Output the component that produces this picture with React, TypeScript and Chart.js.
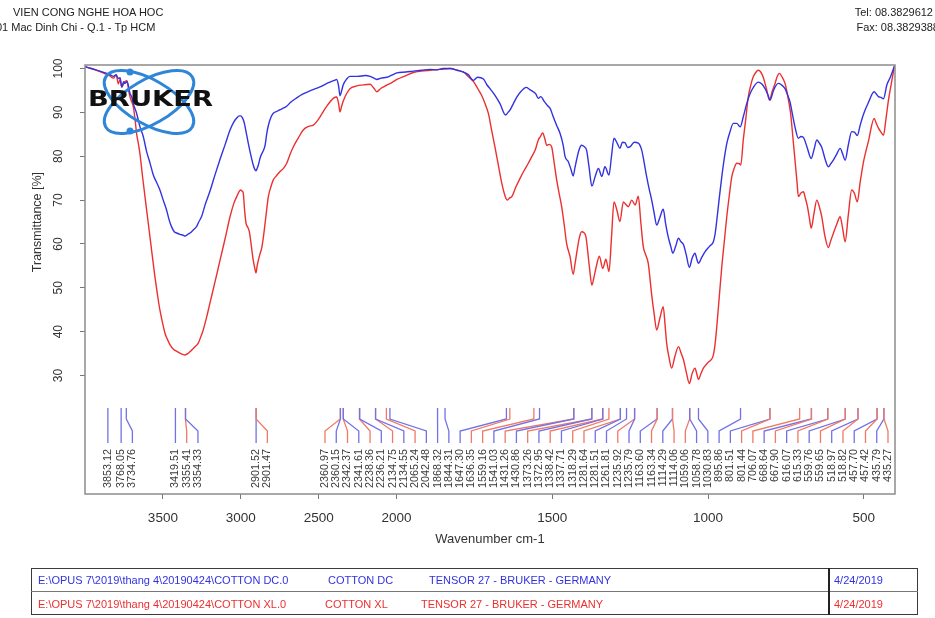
import { useEffect, useRef } from 'react'
import { Chart, registerables } from 'chart.js'

Chart.register(...registerables)

const FONT = '"Liberation Sans", Arial, sans-serif'
const BLUE = '#3232e0'
const RED = '#ec3030'
const LEADER_BLUE = '#7272e6'
const LEADER_RED = '#f07a66'

// [wavenumber cm-1, transmittance %]
const DC_POINTS: [number, number][] = [
  [3998, 100.4], [3960, 100], [3904, 99.4], [3870, 99], [3840, 98.6], [3818, 98.2], [3800, 98.6],
  [3786, 97.7], [3775, 97.9], [3764, 95.8], [3752, 97], [3743, 96.6], [3730, 97], [3711, 94.3],
  [3700, 93.5], [3690, 92], [3668, 89.7], [3647, 86.7], [3626, 84.5], [3604, 81], [3583, 78.5],
  [3562, 75.8], [3540, 74], [3519, 72.3], [3498, 70], [3476, 67.7], [3460, 65.5], [3444, 63.9],
  [3427, 62.8], [3411, 62.5], [3390, 62.2], [3370, 62], [3358, 61.8], [3340, 62.2], [3326, 62.5],
  [3305, 63.2], [3283, 64], [3270, 65], [3251, 66.3], [3230, 68.8], [3198, 72], [3165, 75.8],
  [3133, 79.3], [3100, 82.7], [3069, 86], [3045, 87.8], [3026, 88.7], [3010, 89.2], [3001, 89.2],
  [2990, 88.8], [2979, 87.8], [2965, 85.4], [2952, 83], [2935, 80.2], [2920, 78], [2910, 77],
  [2902, 76.7], [2895, 77.2], [2887, 78], [2875, 79.7], [2866, 80.5], [2855, 81.3], [2844, 82.5],
  [2833, 85.2], [2823, 87], [2805, 89], [2791, 89.8], [2770, 90.2], [2748, 90.6], [2725, 91],
  [2705, 91.4], [2680, 92.3], [2641, 93.3], [2600, 94.2], [2556, 94.9], [2520, 95.4], [2491, 95.8],
  [2440, 96.7], [2400, 97.3], [2384, 97.5], [2372, 96], [2363, 93.8], [2352, 95], [2342, 96.3],
  [2320, 97.6], [2299, 98.2], [2250, 98.2], [2200, 98.4], [2170, 98.2], [2140, 97.7], [2127, 97.5],
  [2100, 97.8], [2063, 98], [2030, 98.5], [1999, 99], [1970, 99.2], [1946, 99.4], [1920, 99.6],
  [1892, 99.8], [1870, 99.7], [1850, 100], [1828, 100], [1805, 99.6], [1786, 99.2], [1770, 98.6],
  [1753, 97.3], [1740, 98], [1721, 97.6], [1710, 96.3], [1700, 95.4], [1685, 94], [1668, 92],
  [1650, 89.4], [1642, 90], [1636, 90.5], [1625, 92], [1614, 93.5], [1600, 94.8], [1584, 95.7],
  [1572, 95.2], [1561, 94.7], [1553, 94.2], [1545, 93.2], [1537, 93.6], [1526, 92.5], [1515, 91.5],
  [1507, 90.9], [1497, 89], [1486, 87], [1475, 85.2], [1465, 82.5], [1459, 79.9], [1449, 78.8],
  [1440, 77], [1433, 75.5], [1427, 77.5], [1422, 79.2], [1414, 81.5], [1406, 82.5], [1398, 82.2],
  [1390, 81.4], [1382, 77.5], [1373, 73.2], [1362, 75.5], [1352, 77.2], [1341, 75.4], [1331, 77.6],
  [1318, 75.7], [1310, 80], [1302, 84.1], [1292, 83], [1283, 81.8], [1275, 83.2], [1267, 83.1],
  [1258, 82], [1250, 82.2], [1237, 83.2], [1224, 83], [1213, 81.4], [1205, 78.5], [1197, 75.3],
  [1189, 72.5], [1181, 70], [1173, 67], [1165, 64.3], [1155, 66], [1144, 67.9], [1136, 64.5],
  [1128, 61.6], [1120, 59.5], [1113, 57.9], [1104, 59.5], [1095, 61.3], [1087, 60.5], [1079, 59.9],
  [1070, 57.5], [1060, 54.7], [1051, 56.8], [1042, 57.9], [1036, 56.5], [1031, 55.6], [1020, 57],
  [1010, 58.2], [995, 59.5], [983, 60.5], [977, 62.5], [972, 65.4], [964, 70.5], [956, 75.3],
  [948, 79.5], [940, 82.9], [930, 85.5], [919, 87.5], [908, 87.5], [897, 86.7], [887, 89],
  [876, 92], [865, 94.3], [852, 96], [839, 96.9], [828, 96.5], [817, 95.4], [808, 94], [801, 92.8],
  [790, 95], [775, 96.6], [765, 96.3], [753, 95.4], [745, 94], [737, 92.4], [729, 89.5], [721, 86.7],
  [710, 84.1], [702, 84.5], [694, 84.3], [682, 82], [669, 79.5], [660, 81.5], [651, 83.7], [643, 83],
  [635, 82], [625, 79.5], [614, 77.6], [606, 78.3], [598, 79.1], [587, 80.5], [576, 81.8], [568, 80.5],
  [560, 79.1], [550, 82.5], [539, 85.6], [530, 85.5], [521, 84.7], [512, 87], [502, 89.4], [485, 92.3],
  [467, 94.7], [460, 94.2], [453, 93.6], [445, 93.4], [437, 93.1], [426, 96.3], [415, 98], [402, 100.5],
]

const XL_POINTS: [number, number][] = [
  [3998, 100.4], [3960, 100], [3904, 99.3], [3870, 98.8], [3840, 98.3], [3818, 97.8], [3800, 98.5],
  [3786, 96.5], [3775, 97.5], [3764, 95.8], [3752, 96.5], [3743, 97], [3730, 97.2], [3720, 95],
  [3711, 93.5], [3700, 92.4], [3690, 91.3], [3679, 88.5], [3668, 85], [3658, 83], [3647, 80.5],
  [3631, 75.5], [3615, 70.8], [3599, 66.2], [3583, 61.6], [3567, 57], [3551, 52.5], [3535, 48.5],
  [3519, 44.9], [3502, 42], [3486, 39.6], [3470, 38.2], [3454, 37], [3432, 36], [3411, 35.5],
  [3385, 35], [3358, 34.7], [3336, 35.1], [3315, 35.8], [3295, 36.5], [3273, 37.4], [3257, 38.8],
  [3241, 40.4], [3220, 43.2], [3198, 46.5], [3165, 51.4], [3133, 56.3], [3100, 61.3], [3069, 66.2],
  [3045, 69.2], [3026, 70.8], [3010, 72], [3001, 72.3], [2990, 72], [2984, 71.6], [2975, 67.5],
  [2966, 64.7], [2955, 63.8], [2945, 62.8], [2932, 59.5], [2920, 56.3], [2910, 54.5], [2902, 53.4],
  [2895, 55], [2887, 56.3], [2876, 57.8], [2866, 59], [2855, 61.5], [2844, 64.7], [2833, 68],
  [2823, 70.8], [2805, 73.2], [2791, 74.6], [2770, 75.6], [2748, 76.5], [2725, 77.3], [2705, 78.4],
  [2685, 80.3], [2663, 82.1], [2630, 84.2], [2599, 86], [2565, 86.8], [2534, 87.1], [2510, 88],
  [2491, 89], [2450, 91.3], [2406, 93.2], [2384, 93.5], [2372, 92], [2363, 90.1], [2352, 91.5],
  [2342, 92.6], [2320, 94.3], [2299, 95.4], [2260, 96], [2234, 96.2], [2200, 96.3], [2170, 96.4],
  [2145, 95.5], [2127, 94.7], [2100, 95.5], [2063, 96.2], [2030, 96.8], [1999, 97.5], [1970, 98.4],
  [1946, 99.1], [1920, 99.4], [1892, 99.6], [1860, 99.8], [1828, 100], [1805, 99.6], [1786, 99.2],
  [1770, 98.2], [1753, 97], [1740, 95.5], [1727, 93.9], [1716, 92], [1705, 89.7], [1695, 86],
  [1684, 82.1], [1672, 77.5], [1662, 73.8], [1652, 71], [1644, 70], [1637, 70.5], [1630, 70.8],
  [1617, 73], [1604, 74.9], [1590, 76.8], [1577, 78.4], [1566, 79.9], [1555, 81.4], [1545, 83.7],
  [1538, 84.5], [1531, 85.3], [1524, 84], [1518, 82.5], [1510, 82.7], [1502, 82.1], [1494, 78.5],
  [1486, 74.6], [1478, 71.5], [1470, 68.5], [1462, 64.5], [1454, 60.1], [1443, 57.1], [1433, 53.1],
  [1427, 55.5], [1420, 58.7], [1413, 61.5], [1406, 62.8], [1399, 62.6], [1392, 61.6], [1381, 54.8],
  [1373, 50.6], [1366, 52.5], [1359, 54.8], [1349, 57.2], [1338, 54.4], [1328, 56.5], [1318, 53.7],
  [1310, 61.5], [1302, 69.6], [1292, 67.5], [1283, 65.1], [1272, 69.6], [1264, 69], [1256, 68.5],
  [1245, 70], [1234, 68.9], [1224, 70.9], [1216, 65], [1208, 59.4], [1200, 57.5], [1192, 55.6],
  [1181, 48.4], [1173, 44], [1165, 40.4], [1155, 43], [1144, 45.7], [1138, 41.5], [1133, 37.4],
  [1125, 34], [1117, 31.7], [1106, 34.5], [1095, 36.6], [1087, 35.2], [1079, 33.6], [1070, 30.8],
  [1060, 28.2], [1051, 30.5], [1042, 31.7], [1036, 30.3], [1031, 29.1], [1023, 30.4], [1015, 31.7],
  [1000, 33], [983, 34.7], [977, 37.5], [972, 41.2], [964, 48], [956, 54.8], [948, 60.5], [940, 66.2],
  [932, 71], [924, 75.3], [916, 77.3], [908, 78.4], [900, 78.3], [895, 78], [887, 83.7], [879, 88.5],
  [871, 93.5], [863, 96.2], [855, 98.1], [847, 99.1], [839, 99.6], [831, 99.2], [823, 98], [813, 95.5],
  [803, 92.8], [794, 94.8], [785, 96.6], [778, 98.2], [771, 98.9], [762, 98], [753, 96.6], [745, 94],
  [735, 89.7], [728, 84.5], [721, 79.1], [715, 74.5], [710, 70.8], [702, 71.6], [694, 71.9],
  [688, 70.5], [681, 68.5], [675, 66], [669, 63.6], [660, 67], [651, 70], [643, 68.5], [635, 66.2],
  [625, 61.8], [614, 59.2], [606, 60.8], [598, 62.4], [587, 64.5], [576, 66.2], [568, 63.5],
  [560, 60.5], [550, 66.5], [539, 72.3], [530, 71.5], [521, 69.6], [512, 74], [502, 78.4], [485, 83.5],
  [467, 88.6], [460, 87.5], [453, 86.4], [445, 85.5], [437, 84.8], [429, 88.5], [421, 92.8],
  [412, 96.5], [402, 100.5],
]

const X_TICKS = [3500, 3000, 2500, 2000, 1500, 1000, 500]
const Y_TICKS = [30, 40, 50, 60, 70, 80, 90, 100]

const PEAKS = [
  3853.12, 3768.05, 3734.76, 3419.51, 3355.41, 3354.33, 2901.52, 2901.47,
  2360.97, 2360.15, 2342.37, 2341.61, 2238.36, 2236.21, 2134.75, 2134.55, 2065.24, 2042.48,
  1868.32, 1844.31, 1647.3, 1636.35, 1559.16, 1541.03, 1431.26, 1430.86, 1373.26, 1372.95,
  1338.42, 1337.71, 1318.29, 1281.64, 1281.51, 1261.81, 1235.92, 1235.79, 1163.6, 1163.34,
  1114.29, 1114.06, 1059.06, 1058.78, 1030.83, 895.86, 801.51, 801.44, 706.07, 668.64, 667.9,
  616.07, 615.33, 559.76, 559.65, 518.97, 518.82, 457.7, 457.42, 435.79, 435.27,
]
// which spectrum each peak label belongs to: b = COTTON DC, r = COTTON XL
const PEAK_SERIES = [
  'b', 'b', 'b', 'b', 'r', 'b', 'b', 'r',
  'r', 'b', 'r', 'b', 'r', 'b', 'r', 'b', 'r', 'b',
  'b', 'b', 'b', 'r', 'r', 'b', 'r', 'b', 'r', 'b',
  'r', 'b', 'r', 'r', 'b', 'b', 'r', 'b', 'b', 'r',
  'b', 'r', 'r', 'b', 'b', 'b', 'b', 'r', 'r', 'b', 'r',
  'b', 'r', 'b', 'r', 'b', 'r', 'b', 'r', 'b', 'r',
]

const FILES = [
  { path: 'E:\\OPUS 7\\2019\\thang 4\\20190424\\COTTON DC.0', name: 'COTTON DC', color: BLUE, nameX: 328, instX: 429 },
  { path: 'E:\\OPUS 7\\2019\\thang 4\\20190424\\COTTON XL.0', name: 'COTTON XL', color: RED, nameX: 325, instX: 421 },
]
const INSTRUMENT = 'TENSOR 27 - BRUKER - GERMANY'
const DATE = '4/24/2019'

// OPUS halves the scale above 2000 cm-1
const BREAK = 2000
const toAxis = (w: number) => (w > BREAK ? BREAK + (w - BREAK) / 2 : w)
const fromAxis = (u: number) => (u > BREAK ? BREAK + (u - BREAK) * 2 : u)

const LABEL_GAP = 11.26

const decor = {
  id: 'opusDecor',
  afterDatasetsDraw(chart: any) {
    const { ctx, chartArea: a, scales } = chart
    const xs = scales.x
    const ys = scales.y

    // plot frame
    ctx.save()
    ctx.strokeStyle = '#8c8c8c'
    ctx.lineWidth = 1.5
    ctx.strokeRect(a.left, a.top, a.right - a.left, a.bottom - a.top)

    // peak leaders, labels spread so they don't overlap
    const px = PEAKS.map((w) => xs.getPixelForValue(toAxis(w)))
    const lx = px.slice()
    for (let i = 1; i < lx.length; i++) lx[i] = Math.max(lx[i], lx[i - 1] + LABEL_GAP)
    lx[lx.length - 1] = Math.min(lx[lx.length - 1], a.right - 7)
    for (let i = lx.length - 2; i >= 0; i--) lx[i] = Math.min(lx[i], lx[i + 1] - LABEL_GAP)
    const y0 = a.bottom - 86
    const y1 = a.bottom - 75
    const y2 = a.bottom - 63
    const y3 = a.bottom - 51
    ctx.lineWidth = 1.3
    PEAKS.forEach((w, i) => {
      ctx.strokeStyle = PEAK_SERIES[i] === 'b' ? LEADER_BLUE : LEADER_RED
      ctx.beginPath()
      ctx.moveTo(px[i], y0)
      ctx.lineTo(px[i], y1)
      ctx.lineTo(lx[i], y2)
      ctx.lineTo(lx[i], y3)
      ctx.stroke()
    })
    ctx.fillStyle = '#3a3a3a'
    ctx.font = `10.8px ${FONT}`
    ctx.textAlign = 'right'
    ctx.textBaseline = 'middle'
    PEAKS.forEach((w, i) => {
      ctx.save()
      ctx.translate(lx[i], a.bottom - 45)
      ctx.rotate(-Math.PI / 2)
      ctx.fillText(w.toFixed(2), 0, 0)
      ctx.restore()
    })

    // Bruker logo
    const cx = a.left + 64
    const cy = a.top + 37
    ctx.strokeStyle = '#2f86d8'
    ctx.fillStyle = '#2f86d8'
    ctx.lineWidth = 3
    for (const ang of [Math.PI / 6, -Math.PI / 6]) {
      ctx.beginPath()
      ctx.ellipse(cx, cy, 50, 22, ang, 0, Math.PI * 2)
      ctx.stroke()
    }
    for (const dy of [-30, 29]) {
      ctx.beginPath()
      ctx.arc(cx - 19, cy + dy, 3.5, 0, Math.PI * 2)
      ctx.fill()
    }
    ctx.fillStyle = '#111'
    ctx.font = `bold 21px "DejaVu Sans", sans-serif`
    ctx.textAlign = 'left'
    const tw = ctx.measureText('BRUKER').width
    ctx.save()
    ctx.translate(a.left + 3, a.top + 36)
    ctx.scale(125 / tw, 1)
    ctx.fillText('BRUKER', 0, 0)
    ctx.restore()

    // rotated y tick labels and axis titles
    ctx.fillStyle = '#333'
    ctx.font = `12px ${FONT}`
    ctx.textAlign = 'center'
    Y_TICKS.forEach((v) => {
      ctx.save()
      ctx.translate(a.left - 26, ys.getPixelForValue(v))
      ctx.rotate(-Math.PI / 2)
      ctx.fillText(String(v), 0, 0)
      ctx.restore()
    })
    ctx.font = `12.5px ${FONT}`
    ctx.save()
    ctx.translate(a.left - 47, (ys.getPixelForValue(30) + ys.getPixelForValue(100)) / 2)
    ctx.rotate(-Math.PI / 2)
    ctx.fillText('Transmittance [%]', 0, 0)
    ctx.restore()
    ctx.font = `13px ${FONT}`
    ctx.fillText('Wavenumber cm-1', (a.left + a.right) / 2, a.bottom + 45)
    ctx.restore()
  },
}

function Spectrum() {
  const canvasRef = useRef<HTMLCanvasElement>(null)
  const chartRef = useRef<Chart | null>(null)

  useEffect(() => {
    const el = canvasRef.current
    if (!el) return
    try { chartRef.current?.destroy() } catch { /* noop */ }
    chartRef.current = new Chart(el, {
      type: 'line',
      data: {
        datasets: [
          {
            label: 'COTTON DC',
            data: DC_POINTS.map(([w, t]) => ({ x: toAxis(w), y: t })),
            borderColor: BLUE,
            borderWidth: 1.4,
            pointRadius: 0,
            cubicInterpolationMode: 'monotone',
          },
          {
            label: 'COTTON XL',
            data: XL_POINTS.map(([w, t]) => ({ x: toAxis(w), y: t })),
            borderColor: RED,
            borderWidth: 1.4,
            pointRadius: 0,
            cubicInterpolationMode: 'monotone',
          },
        ],
      },
      options: {
        responsive: true,
        maintainAspectRatio: false,
        animation: false,
        layout: { padding: { left: 0, top: 65, right: 40, bottom: 0 } },
        plugins: { legend: { display: false }, tooltip: { enabled: false } },
        scales: {
          x: {
            type: 'linear',
            reverse: true,
            min: 400,
            max: 3000,
            afterBuildTicks: (s: any) => { s.ticks = X_TICKS.map((w) => ({ value: toAxis(w) })) },
            afterFit: (s: any) => { s.height = 124 },
            border: { display: false },
            grid: { drawOnChartArea: false, drawTicks: true, tickLength: 5, color: '#777' },
            ticks: {
              autoSkip: false,
              maxRotation: 0,
              padding: 11,
              color: '#333',
              font: { family: FONT, size: 13.5 },
              callback: (v: any) => String(Math.round(fromAxis(Number(v)))),
            },
          },
          y: {
            type: 'linear',
            min: 3,
            max: 100.8,
            afterBuildTicks: (s: any) => { s.ticks = Y_TICKS.map((v) => ({ value: v })) },
            afterFit: (s: any) => { s.width = 85 },
            border: { display: false },
            grid: { drawOnChartArea: false, drawTicks: true, tickLength: 5, color: '#777' },
            ticks: { display: false },
          },
        },
      },
      plugins: [decor],
    } as any)
    return () => { try { chartRef.current?.destroy() } catch { /* noop */ } }
  }, [])

  return <canvas ref={canvasRef} />
}

const txt = (left: number, top: number, color = '#222'): React.CSSProperties => ({
  position: 'absolute', left, top, color, fontSize: 11, lineHeight: '14px', whiteSpace: 'nowrap',
})

export default function App() {
  return (
    <div style={{ position: 'absolute', left: 0, top: 0, width: 935, height: 618, background: '#fff', overflow: 'hidden', fontFamily: FONT }}>
      <div style={{ position: 'absolute', left: 0, top: 0, width: 935, height: 618 }}>
        <Spectrum />
      </div>
      <div style={txt(13, 5)}>VIEN CONG NGHE HOA HOC</div>
      <div style={txt(-4, 20)}>01 Mac Dinh Chi - Q.1 - Tp HCM</div>
      <div style={{ ...txt(0, 5), left: 'auto', right: 2 }}>Tel: 08.3829612</div>
      <div style={{ ...txt(0, 20), left: 'auto', right: -4 }}>Fax: 08.3829388</div>

      <div style={{ position: 'absolute', left: 31, top: 568, width: 887, height: 47, border: '1.5px solid #3a3a3a', boxSizing: 'border-box' }} />
      <div style={{ position: 'absolute', left: 31, top: 591, width: 887, height: 0, borderTop: '1px solid #777' }} />
      <div style={{ position: 'absolute', left: 828, top: 568, width: 0, height: 47, borderLeft: '2px solid #222' }} />
      {FILES.map((f, i) => (
        <div key={f.name}>
          <div style={txt(38, 573 + i * 23.5, f.color)}>{f.path}</div>
          <div style={txt(f.nameX, 573 + i * 23.5, f.color)}>{f.name}</div>
          <div style={txt(f.instX, 573 + i * 23.5, f.color)}>{INSTRUMENT}</div>
          <div style={txt(834, 573 + i * 23.5, f.color)}>{DATE}</div>
        </div>
      ))}
    </div>
  )
}
